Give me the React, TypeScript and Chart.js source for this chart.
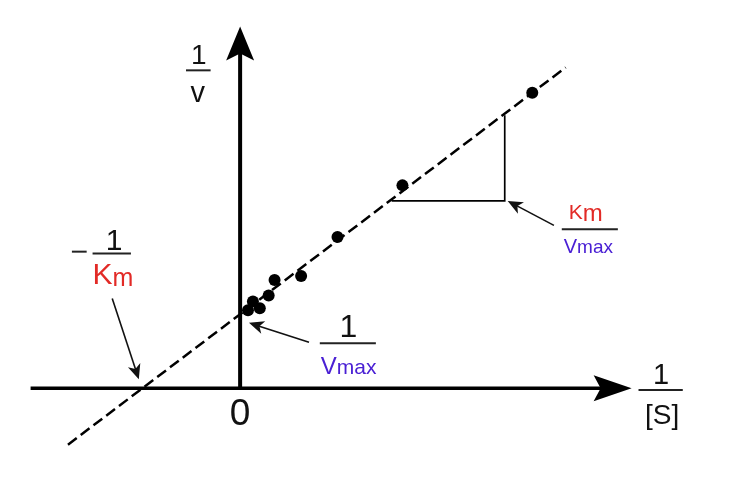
import { useEffect, useRef } from "react";
import { Chart, registerables } from "chart.js";

Chart.register(...registerables);

// Data (1/[S], 1/v) in plot units
const invS = [0.08, 0.13, 0.2, 0.29, 0.35, 0.62, 0.99, 1.65, 2.97];
const invV = [0.8, 0.89, 0.82, 0.95, 1.11, 1.15, 1.55, 2.08, 3.03];
// fitted Lineweaver-Burk line
const fitX = [-1.75, 3.31];
const fitY = [-0.58, 3.29];
// slope triangle
const triX = [1.54, 2.69, 2.69];
const triY = [1.92, 1.92, 2.8];

const X_MIN = -2.38;
const X_MAX = 4.98;
const Y_MIN = -0.85;
const Y_MAX = 3.92;

const RED = "#e22a26";
const BLUE = "#4a20d4";
const FONT = "'Liberation Sans', Arial, sans-serif";

type Part = { text: string; size: number; color: string; dy?: number };

function drawRich(ctx: CanvasRenderingContext2D, parts: Part[], x: number, base: number, align: "left" | "center") {
  let total = 0;
  const widths = parts.map((p) => {
    ctx.font = `${p.size}px ${FONT}`;
    const w = ctx.measureText(p.text).width;
    total += w;
    return w;
  });
  let cx = align === "center" ? x - total / 2 : x;
  ctx.textAlign = "left";
  ctx.textBaseline = "alphabetic";
  parts.forEach((p, i) => {
    ctx.font = `${p.size}px ${FONT}`;
    ctx.fillStyle = p.color;
    ctx.fillText(p.text, cx, base + (p.dy || 0));
    cx += widths[i];
  });
}

function stealth(ctx: CanvasRenderingContext2D, x1: number, y1: number, x2: number, y2: number, len: number, half: number, notch: number) {
  const a = Math.atan2(y2 - y1, x2 - x1);
  const c = Math.cos(a);
  const s = Math.sin(a);
  const bx = x2 - c * len;
  const by = y2 - s * len;
  ctx.beginPath();
  ctx.moveTo(x2, y2);
  ctx.lineTo(bx - s * half, by + c * half);
  ctx.lineTo(x2 - c * (len - notch), y2 - s * (len - notch));
  ctx.lineTo(bx + s * half, by - c * half);
  ctx.closePath();
  ctx.fill();
}

const overlay = {
  id: "lbOverlay",
  beforeDatasetsDraw(chart: any) {
    const ctx: CanvasRenderingContext2D = chart.ctx;
    const xs = chart.scales.x;
    const ys = chart.scales.y;
    const X = (v: number) => xs.getPixelForValue(v);
    const Y = (v: number) => ys.getPixelForValue(v);
    ctx.save();
    ctx.fillStyle = "#000";
    ctx.strokeStyle = "#000";
    // x axis
    ctx.lineWidth = 3.5;
    ctx.beginPath();
    ctx.moveTo(X(-2.13), Y(0));
    ctx.lineTo(X(3.7), Y(0));
    ctx.stroke();
    stealth(ctx, X(0), Y(0), X(3.98), Y(0), 38, 13, 7);
    // y axis
    ctx.lineWidth = 4;
    ctx.beginPath();
    ctx.moveTo(X(0), Y(-0.01));
    ctx.lineTo(X(0), Y(3.5));
    ctx.stroke();
    stealth(ctx, X(0), Y(0), X(0), Y(3.71), 34, 14, 7);
    ctx.restore();
  },
  afterDatasetsDraw(chart: any) {
    const ctx: CanvasRenderingContext2D = chart.ctx;
    const xs = chart.scales.x;
    const ys = chart.scales.y;
    const X = (v: number) => xs.getPixelForValue(v);
    const Y = (v: number) => ys.getPixelForValue(v);
    ctx.save();
    const bar = (x1: number, x2: number, y: number, w = 2) => {
      ctx.strokeStyle = "#222";
      ctx.lineWidth = w;
      ctx.beginPath();
      ctx.moveTo(X(x1), Y(y));
      ctx.lineTo(X(x2), Y(y));
      ctx.stroke();
    };
    const arrow = (x1: number, y1: number, x2: number, y2: number) => {
      ctx.strokeStyle = "#111";
      ctx.fillStyle = "#111";
      ctx.lineWidth = 1.6;
      const a = Math.atan2(Y(y2) - Y(y1), X(x2) - X(x1));
      ctx.beginPath();
      ctx.moveTo(X(x1), Y(y1));
      ctx.lineTo(X(x2) - Math.cos(a) * 10, Y(y2) - Math.sin(a) * 10);
      ctx.stroke();
      stealth(ctx, X(x1), Y(y1), X(x2), Y(y2), 15, 6.5, 4);
    };

    // y axis label 1/v
    drawRich(ctx, [{ text: "1", size: 28, color: "#111" }], X(-0.42), Y(3.32), "center");
    bar(-0.55, -0.3, 3.26);
    drawRich(ctx, [{ text: "v", size: 29, color: "#111" }], X(-0.43), Y(2.94), "center");

    // origin
    drawRich(ctx, [{ text: "0", size: 37, color: "#111" }], X(0), Y(-0.38), "center");

    // x axis label 1/[S]
    drawRich(ctx, [{ text: "1", size: 29, color: "#111" }], X(4.28), Y(0.04), "center");
    bar(4.05, 4.5, -0.02);
    drawRich(ctx, [{ text: "[S]", size: 28, color: "#111" }], X(4.29), Y(-0.37), "center");

    // -1/Km
    bar(-1.71, -1.56, 1.4);
    drawRich(ctx, [{ text: "1", size: 30, color: "#111" }], X(-1.28), Y(1.42), "center");
    bar(-1.5, -1.11, 1.38);
    drawRich(
      ctx,
      [
        { text: "K", size: 30, color: RED },
        { text: "m", size: 25, color: RED, dy: 2 },
      ],
      X(-1.5),
      Y(1.07),
      "left"
    );
    arrow(-1.3, 0.92, -1.03, 0.09);

    // 1/Vmax
    drawRich(ctx, [{ text: "1", size: 32, color: "#111" }], X(1.1), Y(0.52), "center");
    bar(0.81, 1.38, 0.46);
    drawRich(
      ctx,
      [
        { text: "V", size: 24, color: BLUE },
        { text: "max", size: 21, color: BLUE },
      ],
      X(0.82),
      Y(0.14),
      "left"
    );
    arrow(0.7, 0.47, 0.09, 0.67);

    // Km/Vmax
    drawRich(
      ctx,
      [
        { text: "K", size: 21, color: RED },
        { text: "m", size: 24, color: RED, dy: 2 },
      ],
      X(3.34),
      Y(1.74),
      "left"
    );
    bar(3.27, 3.84, 1.63);
    drawRich(
      ctx,
      [
        { text: "V", size: 20, color: BLUE },
        { text: "max", size: 19, color: BLUE },
      ],
      X(3.29),
      Y(1.39),
      "left"
    );
    arrow(3.19, 1.67, 2.72, 1.92);
    ctx.restore();
  },
};

export default function App() {
  const ref = useRef<HTMLCanvasElement | null>(null);
  useEffect(() => {
    if (!ref.current) return;
    const chart = new Chart(ref.current, {
      type: "scatter",
      data: {
        datasets: [
          {
            label: "fit",
            data: fitX.map((x, i) => ({ x, y: fitY[i] })),
            showLine: true,
            borderColor: "#000",
            borderWidth: 2.5,
            borderDash: [11, 5],
            pointRadius: 0,
            clip: false as any,
            order: 2,
          },
          {
            label: "triangle",
            data: triX.map((x, i) => ({ x, y: triY[i] })),
            showLine: true,
            borderColor: "#000",
            borderWidth: 1.7,
            pointRadius: 0,
            clip: false as any,
            order: 3,
          },
          {
            label: "data",
            data: invS.map((x, i) => ({ x, y: invV[i] })),
            pointRadius: 6,
            pointBackgroundColor: "#000",
            pointBorderColor: "#000",
            pointBorderWidth: 0,
            showLine: false,
            clip: false as any,
            order: 1,
          },
        ],
      },
      options: {
        animation: false,
        responsive: true,
        maintainAspectRatio: false,
        layout: { padding: 0 },
        plugins: { legend: { display: false }, tooltip: { enabled: false } },
        events: [],
        scales: {
          x: { type: "linear", min: X_MIN, max: X_MAX, display: false },
          y: { type: "linear", min: Y_MIN, max: Y_MAX, display: false },
        },
      },
      plugins: [overlay],
    });
    return () => chart.destroy();
  }, []);
  return (
    <div style={{ position: "fixed", left: 0, top: 0, width: 736, height: 477, background: "#fff" }}>
      <canvas ref={ref} />
    </div>
  );
}
